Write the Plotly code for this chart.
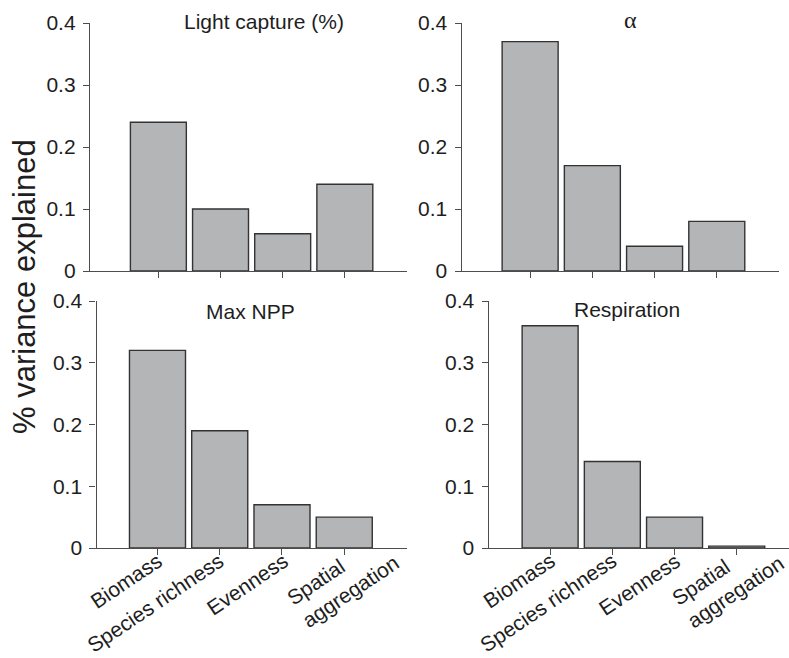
import plotly.graph_objects as go

categories = ["Biomass", "Species richness", "Evenness", "Spatial<br>aggregation"]
light_capture = [0.24, 0.10, 0.06, 0.14]
alpha_vals = [0.37, 0.17, 0.04, 0.08]
max_npp = [0.32, 0.19, 0.07, 0.05]
respiration = [0.36, 0.14, 0.05, 0.003]
panel_titles = ["Light capture (%)", "α", "Max NPP", "Respiration"]
y_ticks = [0, 0.1, 0.2, 0.3, 0.4]
y_ticktext = ["0", "0.1", "0.2", "0.3", "0.4"]

# styling / placement (not data)
label_xshift = [12, 11, 12, 61]
label_yshift = [11, 11, 11, 32]

W, H = 789, 658
FONT = "Liberation Sans, Arial, Helvetica, sans-serif"
SERIF = "Liberation Serif, Times New Roman, serif"
BAR_FILL = "#b4b5b7"
BAR_LINE = "#333333"
AXIS_COL = "#4d4d4d"
TEXT_COL = "#1e1e1e"

def px_x(v):
    return v / W

def px_y(v):
    return 1 - v / H

fig = go.Figure()
series = [light_capture, alpha_vals, max_npp, respiration]
for i, vals in enumerate(series):
    sfx = "" if i == 0 else str(i + 1)
    fig.add_trace(go.Bar(
        x=categories, y=vals,
        xaxis="x" + sfx, yaxis="y" + sfx,
        marker=dict(color=BAR_FILL, line=dict(color=BAR_LINE, width=1.4)),
        showlegend=False, hoverinfo="x+y",
    ))

panels = [
    dict(x0=90, x1=407, yt=23, yb=271, xr=[-1.1, 4.0], ypos=None, labels=False, edge=0),
    dict(x0=461.7, x1=779, yt=23, yb=271, xr=[-1.1, 4.0], ypos=None, labels=False, edge=0),
    dict(x0=89, x1=406.5, yt=301, yb=548, xr=[-1.1, 4.0], ypos=95.5, labels=True, edge=0),
    dict(x0=481.7, x1=789, yt=301, yb=548, xr=[-1.1, 3.84], ypos=487.7, labels=True, edge=-7),
]

layout = dict(
    width=W, height=H,
    margin=dict(l=0, r=0, t=0, b=0, autoexpand=False),
    paper_bgcolor="white", plot_bgcolor="white",
    bargap=0.1,
    font=dict(family=FONT, color=TEXT_COL, size=19),
    annotations=[],
)

for i, p in enumerate(panels):
    sfx = "" if i == 0 else str(i + 1)
    xa = dict(
        domain=[px_x(p["x0"]), px_x(p["x1"])],
        range=p["xr"], type="category",
        anchor="y" + sfx, automargin=False,
        showline=True, linecolor=AXIS_COL, linewidth=1.4,
        ticks="outside", ticklen=6, tickwidth=1.4, tickcolor=AXIS_COL,
        showgrid=False, zeroline=False,
        showticklabels=False,
        fixedrange=True,
    )
    ya = dict(
        domain=[px_y(p["yb"]), px_y(p["yt"])],
        range=[0, 0.4], automargin=False,
        showline=True, linecolor=AXIS_COL, linewidth=1.4,
        ticks="outside", ticklen=6, tickwidth=1.4, tickcolor=AXIS_COL,
        tickvals=y_ticks, ticktext=y_ticktext,
        showgrid=False, zeroline=False,
        tickfont=dict(family=FONT, size=21, color=TEXT_COL),
        ticklabelstandoff=3,
        fixedrange=True,
    )
    if p["ypos"] is not None:
        ya["anchor"] = "free"
        ya["position"] = px_x(p["ypos"])
    else:
        ya["anchor"] = "x" + sfx
    layout["xaxis" + sfx] = xa
    layout["yaxis" + sfx] = ya

    # rotated category labels for the bottom panels
    if p["labels"]:
        for j, cat in enumerate(categories):
            xs = label_xshift[j] + (p["edge"] if j == len(categories) - 1 else 0)
            layout["annotations"].append(dict(
                text=cat, x=j, y=0, xref="x" + sfx, yref="y" + sfx,
                xanchor="right", yanchor="top", align="left",
                textangle=-34, showarrow=False,
                xshift=xs, yshift=label_yshift[j] - 9,
                font=dict(family=FONT, size=21, color=TEXT_COL),
            ))

title_pos = [(264, 30), (630, 30), (250, 320), (627, 318)]
for k, (t, (tx, ty)) in enumerate(zip(panel_titles, title_pos)):
    layout["annotations"].append(dict(
        text=t, x=px_x(tx), y=px_y(ty), xref="paper", yref="paper",
        xanchor="center", yanchor="bottom", yshift=-5, showarrow=False,
        font=dict(family=SERIF if t == "α" else FONT,
                  size=24 if t == "α" else 21, color=TEXT_COL),
    ))

layout["annotations"].append(dict(
    text="% variance explained", x=px_x(24), y=px_y(287),
    xref="paper", yref="paper", xanchor="center", yanchor="middle",
    textangle=-90, showarrow=False,
    font=dict(family=FONT, size=31, color=TEXT_COL),
))

fig.update_layout(**layout)
fig.write_html(
    "out.html",
    config={"displayModeBar": False},
    post_script="document.body.style.margin='0px';",
)
